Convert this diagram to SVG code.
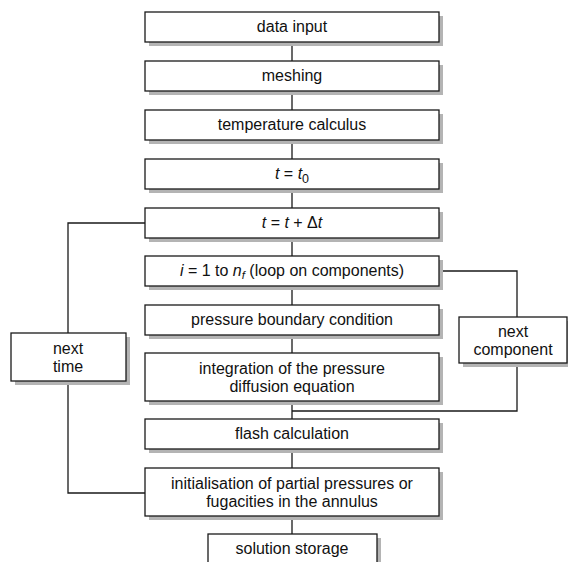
<svg xmlns="http://www.w3.org/2000/svg" width="568" height="562" viewBox="0 0 568 562">
<style>
.sh{fill:#b4b4b4;stroke:none}
.bx{fill:#fff;stroke:#1a1a1a;stroke-width:1.3}
.tx{font-family:"Liberation Sans",Arial,sans-serif;font-size:16px;fill:#111;text-anchor:middle}
.it{font-style:italic}
.ln{fill:none;stroke:#1a1a1a;stroke-width:1.3}
</style>
<rect width="568" height="562" fill="#fff"/>
<g id="connectors">
<path class="ln" d="M292 42V61M292 91V110M292 140V159M292 189V208M292 238V256M292 286V305M292 335V353M292 401V419M292 449V468M292 516V534"/>
<path class="ln" d="M145 223H68V333M68 381V493H145"/>
<path class="ln" d="M439 271H517V317M517 363V411H292"/>
</g>
<g id="n1"><rect class="sh" x="149" y="16" width="294" height="30"/><rect class="bx" x="145" y="12" width="294" height="30"/><text class="tx" x="292" y="32">data input</text></g>
<g id="n2"><rect class="sh" x="149" y="65" width="294" height="30"/><rect class="bx" x="145" y="61" width="294" height="30"/><text class="tx" x="292" y="81">meshing</text></g>
<g id="n3"><rect class="sh" x="149" y="114" width="294" height="30"/><rect class="bx" x="145" y="110" width="294" height="30"/><text class="tx" x="292" y="130">temperature calculus</text></g>
<g id="n4"><rect class="sh" x="149" y="163" width="294" height="30"/><rect class="bx" x="145" y="159" width="294" height="30"/><text class="tx" x="292" y="179"><tspan class="it">t</tspan> = <tspan class="it">t</tspan><tspan dy="4" font-size="12.5">0</tspan></text></g>
<g id="n5"><rect class="sh" x="149" y="212" width="294" height="30"/><rect class="bx" x="145" y="208" width="294" height="30"/><text class="tx" x="292" y="228"><tspan class="it">t</tspan> = <tspan class="it">t</tspan> + Δ<tspan class="it">t</tspan></text></g>
<g id="n6"><rect class="sh" x="149" y="260" width="294" height="30"/><rect class="bx" x="145" y="256" width="294" height="30"/><text class="tx" x="292" y="276"><tspan class="it">i</tspan> = 1 to <tspan class="it">n</tspan><tspan class="it" dy="3" font-size="11.5">f</tspan><tspan dy="-3"> (loop on components)</tspan></text></g>
<g id="n7"><rect class="sh" x="149" y="309" width="294" height="30"/><rect class="bx" x="145" y="305" width="294" height="30"/><text class="tx" x="292" y="325">pressure boundary condition</text></g>
<g id="n8"><rect class="sh" x="149" y="357" width="294" height="48"/><rect class="bx" x="145" y="353" width="294" height="48"/><text class="tx" x="292" y="374">integration of the pressure</text><text class="tx" x="292" y="392">diffusion equation</text></g>
<g id="n9"><rect class="sh" x="149" y="423" width="294" height="30"/><rect class="bx" x="145" y="419" width="294" height="30"/><text class="tx" x="292" y="439">flash calculation</text></g>
<g id="n10"><rect class="sh" x="149" y="472" width="294" height="48"/><rect class="bx" x="145" y="468" width="294" height="48"/><text class="tx" x="292" y="489">initialisation of partial pressures or</text><text class="tx" x="292" y="507">fugacities in the annulus</text></g>
<g id="n11"><rect class="sh" x="212" y="538" width="169" height="30"/><rect class="bx" x="208" y="534" width="169" height="32"/><text class="tx" x="292" y="554">solution storage</text></g>
<g id="n12"><rect class="sh" x="15" y="337" width="115" height="48"/><rect class="bx" x="11" y="333" width="115" height="48"/><text class="tx" x="68" y="354">next</text><text class="tx" x="68" y="372">time</text></g>
<g id="n13"><rect class="sh" x="463" y="321" width="110" height="46"/><rect class="bx" x="459" y="317" width="108" height="46"/><text class="tx" x="513" y="337">next</text><text class="tx" x="513" y="355">component</text></g>
</svg>
